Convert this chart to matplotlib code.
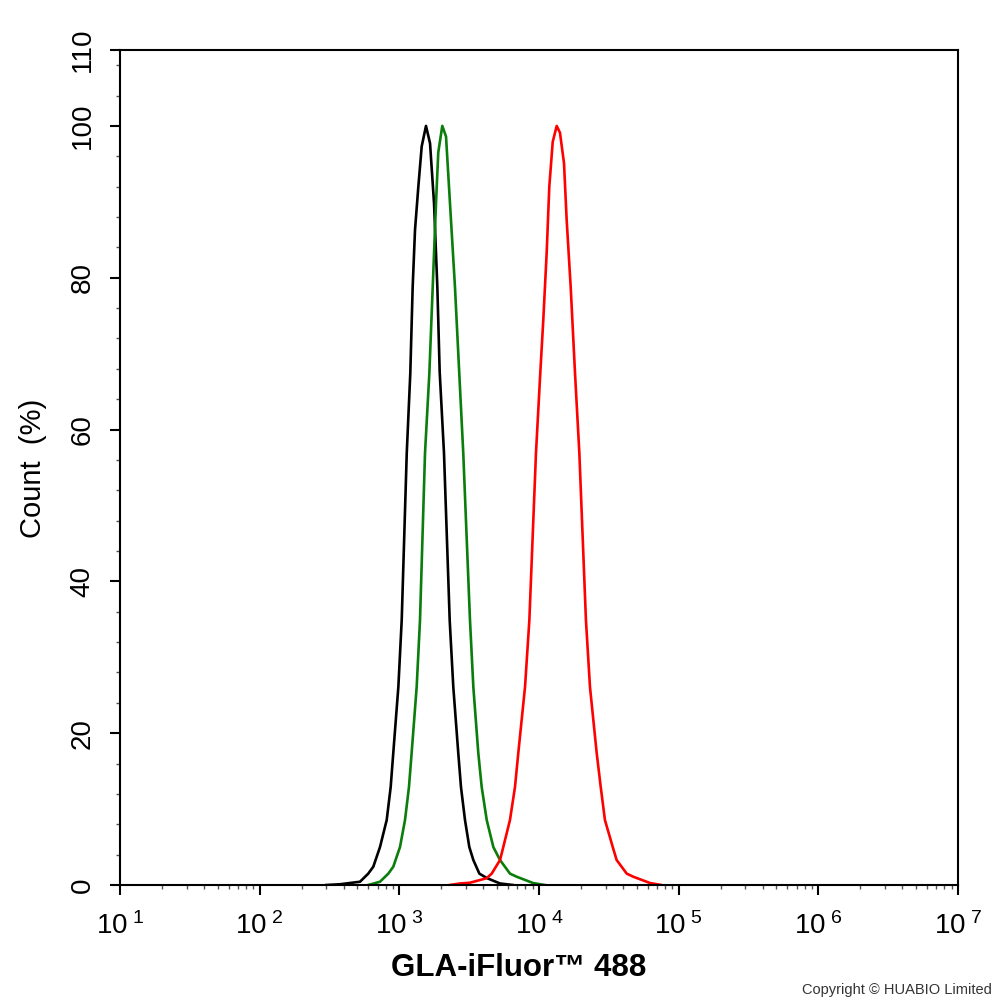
import matplotlib
matplotlib.use("Agg")
import matplotlib.pyplot as plt
from matplotlib.ticker import FixedLocator, FixedFormatter, LogLocator, MultipleLocator, NullFormatter

plt.rcParams['font.family'] = ['Liberation Sans', 'DejaVu Sans']
plt.rcParams['mathtext.fontset'] = 'custom'
plt.rcParams['mathtext.rm'] = 'Liberation Sans'
plt.rcParams['mathtext.it'] = 'Liberation Sans'

# fluorescence intensity / count (%)
black_x = [300, 376, 523, 599, 651, 727, 812, 867, 905, 984, 1040, 1130, 1198, 1246, 1295, 1368,
           1446, 1552, 1659, 1772, 1871, 1945, 2088, 2295, 2434, 2642, 2763, 2952, 3170, 3387,
           3741, 4224, 5260, 6500]
black_y = [0, 0.1, 0.43, 1.5, 2.41, 5.0, 8.56, 12.9, 17.4, 26.1, 34.9, 56.9, 67.4, 78.8, 86.3, 92.0,
           97.3, 100, 97.7, 89.8, 78.8, 67.6, 56.9, 34.8, 26.1, 17.4, 12.9, 8.56, 5.0, 3.29,
           1.5, 0.92, 0.2, 0]

green_x = [600, 727, 834, 905, 1011, 1098, 1172, 1225, 1331, 1406, 1527, 1640, 1734, 1830, 1900,
           2030, 2159, 2305, 2502, 2686, 2869, 3205, 3387, 3675, 3888, 4224, 4710, 5260, 6196,
           6925, 9060, 11000]
green_y = [0, 0.43, 1.5, 2.41, 5.0, 8.56, 12.9, 17.4, 26.1, 34.9, 56.9, 67.4, 78.8, 89.8, 96.5,
           100, 98.6, 89.8, 78.8, 67.4, 56.9, 34.9, 26.1, 17.4, 12.9, 8.56, 5.0, 3.29, 1.5,
           1.09, 0.26, 0]

red_x = [2300, 2718, 3205, 4224, 4585, 5260, 5550, 6196, 6730, 7109, 7943, 8531, 9514, 10210,
         10730, 11350, 11850, 12540, 13390, 14130, 15100, 15780, 16860, 18110, 19450, 21680,
         23170, 25880, 27670, 29650, 33730, 35970, 42460, 47320, 62370, 75000]
red_y = [0, 0.2, 0.3, 0.9, 1.5, 3.29, 5.0, 8.56, 12.9, 17.4, 26.1, 34.9, 56.9, 67.4,
         74.4, 83.3, 92.0, 97.9, 100, 99.1, 95.1, 87.6, 78.8, 67.4, 56.9, 34.9,
         26.1, 17.4, 12.9, 8.56, 5.0, 3.29, 1.5, 1.09, 0.26, 0]

xticks = [1e1, 1e2, 1e3, 1e4, 1e5, 1e6, 1e7]
xticklabels = [r'$\mathregular{10^{\ %d}}$' % p for p in range(1, 8)]
yticks = [0, 20, 40, 60, 80, 100, 110]

fig = plt.figure(figsize=(9.94, 10.02), dpi=100)
ax = fig.add_axes([120/994, 1-885/1002, 838/994, 835/1002])

ax.plot(black_x, black_y, color='black', lw=1.9)
ax.plot(green_x, green_y, color='#0a7d0a', lw=1.9)
ax.plot(red_x, red_y, color='#ff0000', lw=1.9)

ax.set_xscale('log')
ax.set_xlim(1e1, 1e7)
ax.set_ylim(0, 110)

ax.xaxis.set_major_locator(FixedLocator(xticks))
ax.xaxis.set_major_formatter(FixedFormatter(xticklabels))
ax.xaxis.set_minor_locator(LogLocator(base=10, subs=range(2, 10), numticks=20))
ax.xaxis.set_minor_formatter(NullFormatter())
ax.yaxis.set_major_locator(FixedLocator(yticks))
ax.yaxis.set_minor_locator(MultipleLocator(4))

for s in ax.spines.values():
    s.set_linewidth(1.5)

ax.tick_params(which='major', length=7.5, width=1.5, labelsize=20, direction='out')
ax.tick_params(which='minor', length=3, width=1.0, color='#555555', direction='out')
ax.tick_params(axis='x', which='major', pad=12)
ax.tick_params(axis='y', which='major', pad=10)
for lab in ax.get_yticklabels():
    lab.set_rotation(90)
    lab.set_va('center')

fig.text(33/994, 1-468/1002, 'Count  (%)', rotation=90, fontsize=21, ha='center', va='center')
fig.text(519/994, 1-968/1002, 'GLA-iFluor\u2122 488', fontsize=22.5, fontweight='bold',
         ha='center', va='center')
fig.text(992/994, 1-990/1002, 'Copyright \u00a9 HUABIO Limited', fontsize=10.5,
         color='#333333', ha='right', va='center')

fig.savefig('out.png', dpi=100)
